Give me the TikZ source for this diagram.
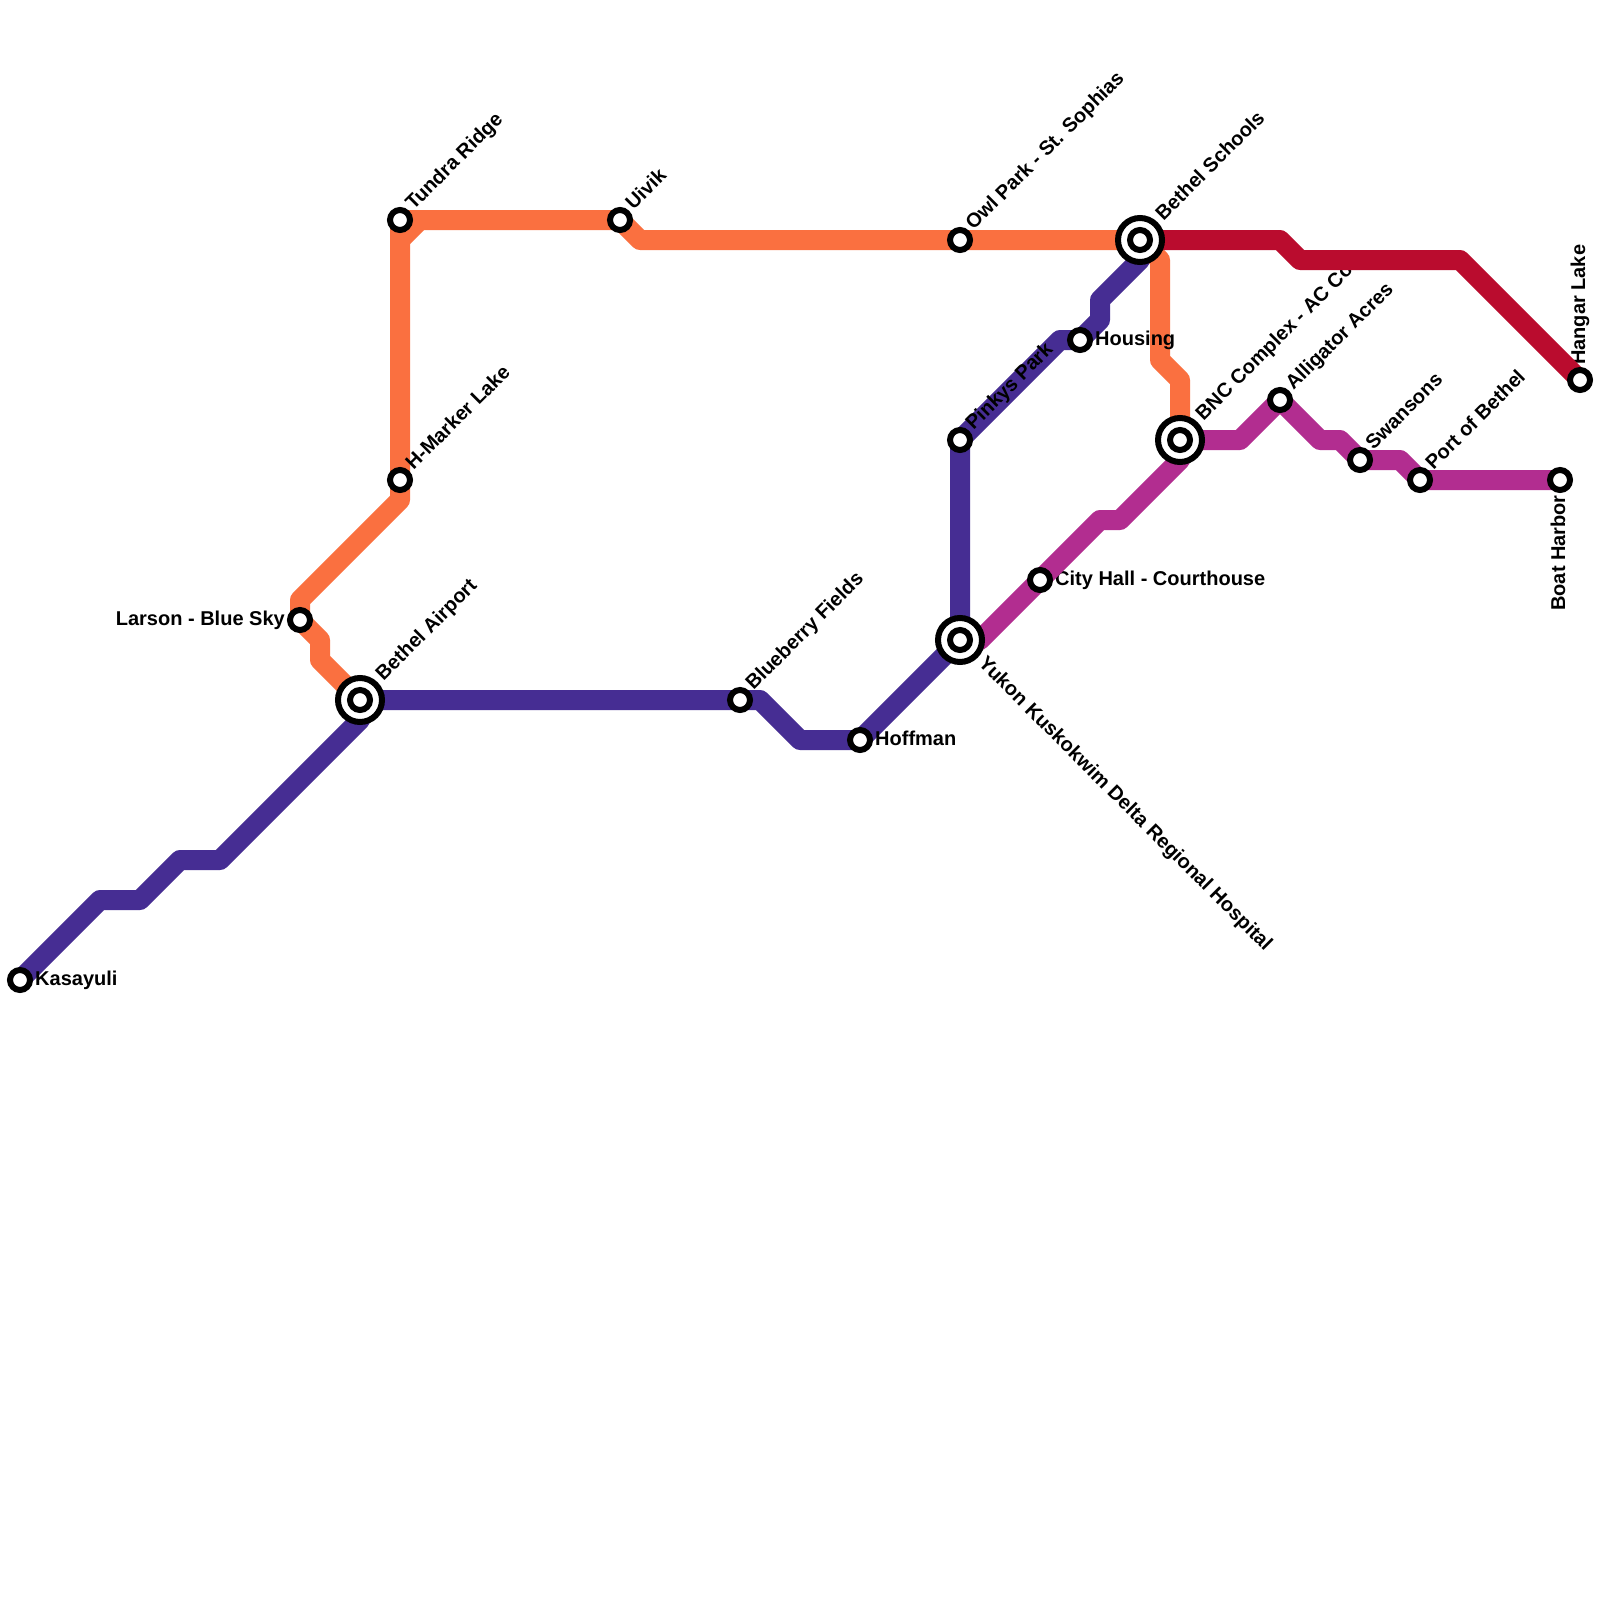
\documentclass[tikz,border=0pt]{standalone}
\usepackage{fontspec}
\setmainfont{Liberation Sans}
\definecolor{lineindigo}{HTML}{462D93}
\definecolor{lineorange}{HTML}{FA7040}
\definecolor{linered}{HTML}{BA0C2E}
\definecolor{linemagenta}{HTML}{B22D90}
\tikzset{
  metro/.style={line width=20pt,line join=round,line cap=round},
  stn/.style={circle,draw=black,fill=white,line width=6pt,minimum size=20pt,inner sep=0pt},
  hubring/.style={circle,draw=black,fill=white,line width=6pt,minimum size=44pt,inner sep=0pt},
  lbl/.style={inner sep=0pt,font=\bfseries\fontsize{20}{22}\selectfont,text=black,text height=14.5pt,text depth=4.5pt},
  lblup/.style={lbl,rotate=45,anchor=west},
  lbldown/.style={lbl,rotate=-45,anchor=west},
}
\begin{document}
\begin{tikzpicture}[x=1pt,y=-1pt]
\useasboundingbox (0,0) rectangle (1600,1600);
\fill[white] (0,0) rectangle (1600,1600);
% station positions
\coordinate (kasayuli) at (20,980);
\coordinate (airport) at (360,700);
\coordinate (larson) at (300,620);
\coordinate (hmarker) at (400,480);
\coordinate (tundra) at (400,220);
\coordinate (uivik) at (620,220);
\coordinate (owl) at (960,240);
\coordinate (schools) at (1140,240);
\coordinate (pinkys) at (960,440);
\coordinate (housing) at (1080,340);
\coordinate (bnc) at (1180,440);
\coordinate (alligator) at (1280,400);
\coordinate (swansons) at (1360,460);
\coordinate (port) at (1420,480);
\coordinate (boat) at (1560,480);
\coordinate (hangar) at (1580,380);
\coordinate (cityhall) at (1040,580);
\coordinate (yukon) at (960,640);
\coordinate (hoffman) at (860,740);
\coordinate (blueberry) at (740,700);
% orange and indigo lines
\draw[metro,lineindigo] (kasayuli) -- (100,900) -- (140,900) -- (180,860) -- (220,860) -- (360,720) -- (airport)
  -- (blueberry) -- (760,700) -- (800,740) -- (hoffman) -- (yukon) -- (pinkys) -- (1060,340) -- (housing)
  -- (1100,320) -- (1100,300) -- (1140,260) -- (schools);
\draw[metro,lineorange] (airport) -- (320,660) -- (320,640) -- (larson) -- (300,600) -- (400,500) -- (hmarker) -- (tundra) -- (uivik) -- (640,240) -- (owl) -- (schools);
\draw[metro,lineorange] (400,240) -- (420,220);
\draw[metro,lineorange] (schools) -- (1160,260) -- (1160,360) -- (1180,380) -- (bnc);
% labels
\node[lbl,anchor=west] (tKasayuli) at ([xshift=15pt]kasayuli) {Kasayuli};
\node[lbl,anchor=east] (tLarson) at ([xshift=-15pt]larson) {Larson - Blue Sky};
\node[lblup] (tAirport) at ([shift={(20,-22)}]airport) {Bethel Airport};
\node[lblup] (tHmarker) at ([shift={(10,-12.5)}]hmarker) {H-Marker Lake};
\node[lblup] (tTundra) at ([shift={(10,-12.5)}]tundra) {Tundra Ridge};
\node[lblup] (tUivik) at ([shift={(10,-12.5)}]uivik) {Uivik};
\node[lblup] (tOwl) at ([shift={(10,-12.5)}]owl) {Owl Park - St. Sophias};
\node[lblup] (tSchools) at ([shift={(20,-22)}]schools) {Bethel Schools};
\node[lblup] (tPinkys) at ([shift={(10,-12.5)}]pinkys) {Pinkys Park};
\node[lbl,anchor=west] (tHousing) at ([xshift=15pt]housing) {Housing};
\node[lblup] (tBnc) at ([shift={(20,-22)}]bnc) {BNC Complex - AC Co.};
\node[lblup] (tAlligator) at ([shift={(10,-12.5)}]alligator) {Alligator Acres};
\node[lblup] (tSwansons) at ([shift={(10,-12.5)}]swansons) {Swansons};
\node[lblup] (tPort) at ([shift={(10,-12.5)}]port) {Port of Bethel};
\node[lbl,rotate=90,anchor=east] (tBoat) at ([yshift=-15pt]boat) {Boat Harbor};
\node[lbl,rotate=90,anchor=west] (tHangar) at ([yshift=15pt]hangar) {Hangar Lake};
\node[lbl,anchor=west] (tCity) at ([xshift=15pt]cityhall) {City Hall - Courthouse};
\node[lbldown] (tYukon) at ([shift={(21,21)}]yukon) {Yukon Kuskokwim Delta Regional Hospital};
\node[lbl,anchor=west] (tHoffman) at ([xshift=15pt]hoffman) {Hoffman};
\node[lblup] (tBlueberry) at ([shift={(10,-12.5)}]blueberry) {Blueberry Fields};
% red and magenta lines
\draw[metro,linered] (schools) -- (1280,240) -- (1300,260) -- (1460,260) -- (hangar);
\draw[metro,linemagenta] (yukon) -- (980,640) -- (cityhall) -- (1100,520) -- (1120,520) -- (1180,460) -- (bnc)
  -- (1240,440) -- (alligator) -- (1320,440) -- (1340,440) -- (swansons) -- (1400,460) -- (port) -- (boat);
% stations
\foreach \n in {kasayuli,larson,hmarker,tundra,uivik,owl,pinkys,housing,alligator,swansons,port,boat,hangar,cityhall,hoffman,blueberry}{
  \node[stn] (s\n) at (\n) {};
}
\foreach \n in {airport,schools,bnc,yukon}{
  \node[hubring] (h\n) at (\n) {};
  \node[stn] (s\n) at (\n) {};
}
\end{tikzpicture}
\end{document}
